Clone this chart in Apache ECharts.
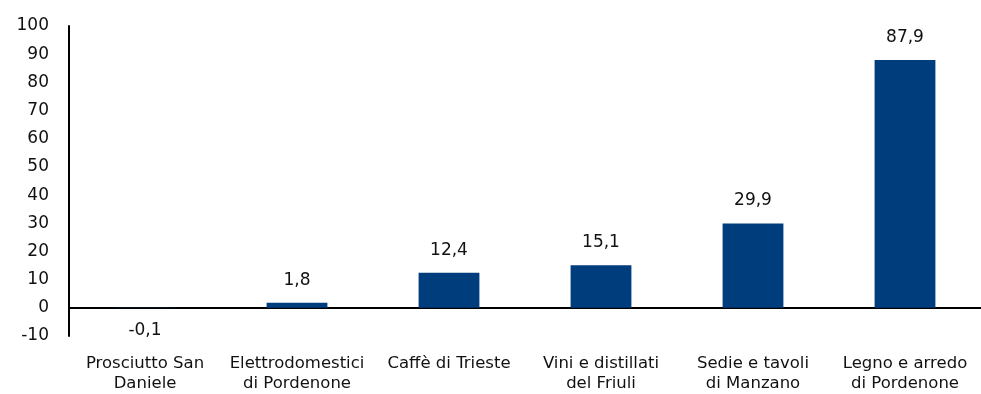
<!DOCTYPE html>
<html>
<head>
<meta charset="utf-8">
<script src="https://cdn.jsdelivr.net/npm/echarts@6/dist/echarts.min.js"></script>
<style>
  html, body { margin: 0; padding: 0; background: #fff; }
  #chart { width: 981px; height: 394px; }
</style>
</head>
<body>
<div id="chart"></div>
<script>
// Distretti e variazioni
const categories = [
  'Prosciutto San\nDaniele',
  'Elettrodomestici\ndi Pordenone',
  'Caffè di Trieste',
  'Vini e distillati\ndel Friuli',
  'Sedie e tavoli\ndi Manzano',
  'Legno e arredo\ndi Pordenone'
];
const values = [-0.1, 1.8, 12.4, 15.1, 29.9, 87.9];
const yTicks = { min: -10, max: 100, interval: 10 };

const FONT = '"DejaVu Sans", sans-serif';
const fmt = v => String(v).replace('.', ',');

const chart = echarts.init(document.getElementById('chart'));
chart.setOption({
  animation: false,
  grid: { left: 69, right: 0, top: 26, bottom: 53, containLabel: false },
  xAxis: [
    {
      type: 'category',
      data: categories,
      position: 'bottom',
      axisLine: { show: false, onZero: false },
      axisTick: { show: false },
      axisLabel: {
        color: '#111',
        fontFamily: FONT,
        fontSize: 16.5,
        lineHeight: 20,
        margin: 18,
        interval: 0
      }
    },
    {
      type: 'category',
      data: categories,
      axisLine: { show: true, onZero: true, lineStyle: { color: '#000', width: 2 } },
      axisTick: { show: false },
      axisLabel: { show: false }
    }
  ],
  yAxis: {
    type: 'value',
    min: yTicks.min,
    max: yTicks.max,
    interval: yTicks.interval,
    splitLine: { show: false },
    axisTick: { show: false },
    axisLine: { show: true, lineStyle: { color: '#000', width: 2 } },
    axisLabel: {
      color: '#111',
      fontFamily: FONT,
      fontSize: 17,
      margin: 20
    }
  },
  series: [{
    type: 'bar',
    data: values.map(v => ({
      value: v,
      label: { position: v < 0 ? 'bottom' : 'top', distance: 14 }
    })),
    barWidth: '40%',
    itemStyle: { color: '#003d7c' },
    label: {
      show: true,
      color: '#111',
      fontFamily: FONT,
      fontSize: 17,
      formatter: p => fmt(p.value)
    }
  }]
});
</script>
</body>
</html>
